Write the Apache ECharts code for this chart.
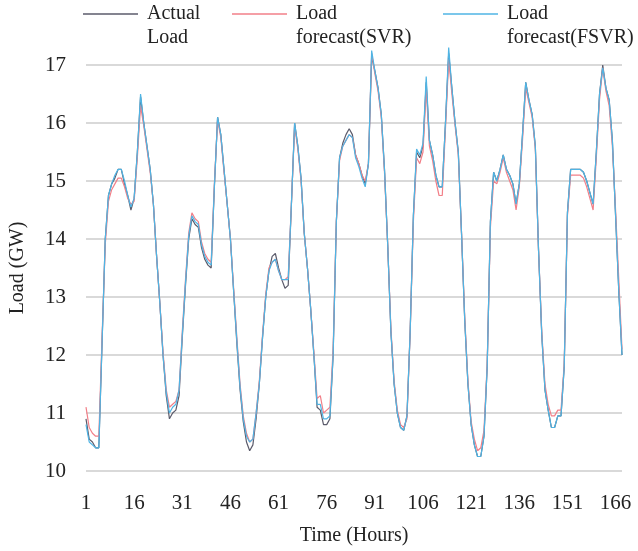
<!DOCTYPE html>
<html>
<head>
<meta charset="utf-8">
<script src="https://cdn.jsdelivr.net/npm/echarts@6/dist/echarts.min.js"></script>
<style>
  html, body { margin: 0; padding: 0; background: #fff; }
  #chart { width: 638px; height: 551px; }
</style>
</head>
<body>
<div id="chart"></div>
<script>
// hours 1..168
const hours = Array.from({ length: 168 }, (_, i) => String(i + 1));

// actual load (GW)
const actualLoad = [
  10.9, 10.55, 10.5, 10.4, 10.4, 12.2, 14.0, 14.75, 14.95, 15.05,
  15.2, 15.2, 14.95, 14.75, 14.5, 14.7, 15.5, 16.45, 16.0, 15.6,
  15.2, 14.6, 13.7, 12.9, 12.0, 11.3, 10.9, 11.0, 11.05, 11.3,
  12.3, 13.2, 14.0, 14.35, 14.25, 14.2, 13.85, 13.65, 13.55, 13.5,
  14.9, 16.1, 15.8, 15.2, 14.6, 14.0, 13.1, 12.2, 11.4, 10.85,
  10.5, 10.35, 10.45, 10.9, 11.5, 12.3, 13.0, 13.45, 13.7, 13.75,
  13.5, 13.3, 13.15, 13.2, 14.6, 16.0, 15.6, 15.05, 14.1, 13.5,
  12.8, 12.0, 11.1, 11.05, 10.8, 10.8, 10.9, 12.0, 14.3, 15.4,
  15.65, 15.8, 15.9, 15.8, 15.45, 15.3, 15.1, 14.95, 15.3, 17.15,
  16.9, 16.6, 16.15, 15.2, 13.9, 12.4, 11.5, 11.0, 10.75, 10.7,
  10.95, 12.4, 14.4, 15.5, 15.4, 15.6, 16.7, 15.7, 15.45, 15.1,
  14.9, 14.9, 16.0, 17.2, 16.6, 16.0, 15.5, 14.1, 12.6, 11.5,
  10.8, 10.45, 10.25, 10.25, 10.6, 11.8, 14.3, 15.15, 15.0, 15.2,
  15.45, 15.2, 15.1, 14.95, 14.6, 14.95, 15.8, 16.7, 16.4, 16.15,
  15.6, 13.8, 12.35, 11.4, 11.05, 10.75, 10.75, 10.95, 10.95, 11.8,
  14.45, 15.2, 15.2, 15.2, 15.2, 15.15, 15.0, 14.8, 14.6, 15.5,
  16.5, 17.0, 16.6, 16.4, 15.7, 14.4, 13.1, 12.0
];

// SVR forecast
const svrForecast = [
  11.1, 10.75, 10.65, 10.6, 10.6, 12.3, 13.9, 14.65, 14.85, 14.95,
  15.05, 15.05, 14.9, 14.7, 14.6, 14.65, 15.4, 16.3, 15.95, 15.55,
  15.15, 14.6, 13.7, 12.9, 12.05, 11.4, 11.1, 11.15, 11.2, 11.4,
  12.4, 13.3, 14.1, 14.45, 14.35, 14.3, 13.95, 13.75, 13.65, 13.6,
  14.95, 16.05, 15.75, 15.15, 14.6, 14.0, 13.15, 12.3, 11.5, 10.95,
  10.65, 10.5, 10.55, 11.0, 11.55, 12.35, 13.05, 13.5, 13.6, 13.65,
  13.45, 13.3, 13.3, 13.35, 14.6, 15.95, 15.55, 15.0, 14.1, 13.5,
  12.8, 12.05, 11.25, 11.3, 11.0, 11.05, 11.1, 12.1, 14.3, 15.35,
  15.6, 15.7, 15.8, 15.75, 15.45, 15.3, 15.1, 15.0, 15.3, 17.2,
  16.85, 16.55, 16.1, 15.15, 13.9, 12.45, 11.55, 11.05, 10.8, 10.75,
  10.9, 12.4, 14.3, 15.4, 15.3, 15.5, 16.6, 15.6, 15.35, 15.0,
  14.75, 14.75, 15.9, 17.1, 16.5, 15.95, 15.45, 14.1, 12.65, 11.55,
  10.85, 10.55, 10.35, 10.4, 10.7, 11.85, 14.2, 15.0, 14.95, 15.15,
  15.4, 15.15, 15.0, 14.85, 14.5, 14.9, 15.7, 16.6, 16.35, 16.1,
  15.55, 13.8, 12.4, 11.5, 11.15, 10.95, 10.95, 11.05, 11.05, 11.85,
  14.4, 15.1, 15.1, 15.1, 15.1, 15.05, 14.9, 14.7, 14.5, 15.4,
  16.4, 16.95, 16.55, 16.3, 15.6, 14.5, 13.3, 12.1
];

// FSVR forecast
const fsvrForecast = [
  10.8, 10.5, 10.45, 10.4, 10.4, 12.2, 14.0, 14.75, 14.95, 15.1,
  15.2, 15.2, 15.0, 14.75, 14.55, 14.7, 15.5, 16.5, 16.0, 15.6,
  15.2, 14.6, 13.7, 12.9, 12.0, 11.35, 11.0, 11.1, 11.15, 11.4,
  12.35, 13.25, 14.05, 14.4, 14.3, 14.25, 13.9, 13.7, 13.6, 13.55,
  14.9, 16.1, 15.8, 15.2, 14.6, 14.0, 13.1, 12.25, 11.45, 10.9,
  10.6, 10.5, 10.55, 11.0, 11.5, 12.3, 13.0, 13.45, 13.6, 13.65,
  13.45, 13.3, 13.3, 13.3, 14.6, 16.0, 15.6, 15.05, 14.1, 13.5,
  12.8, 12.0, 11.15, 11.15, 10.9, 10.9, 10.95, 12.0, 14.3, 15.4,
  15.6, 15.7, 15.8, 15.75, 15.4, 15.25, 15.05, 14.9, 15.3, 17.25,
  16.9, 16.6, 16.15, 15.2, 13.9, 12.4, 11.5, 11.0, 10.75, 10.7,
  10.95, 12.4, 14.4, 15.55, 15.45, 15.65, 16.8, 15.7, 15.45, 15.1,
  14.9, 14.9, 16.0, 17.3, 16.6, 16.0, 15.5, 14.1, 12.6, 11.5,
  10.8, 10.45, 10.25, 10.25, 10.6, 11.8, 14.3, 15.15, 15.0, 15.2,
  15.45, 15.2, 15.1, 14.95, 14.6, 14.95, 15.8, 16.7, 16.4, 16.15,
  15.6, 13.8, 12.35, 11.4, 11.05, 10.75, 10.75, 10.95, 10.95, 11.8,
  14.45, 15.2, 15.2, 15.2, 15.2, 15.15, 15.0, 14.8, 14.6, 15.5,
  16.5, 16.95, 16.6, 16.4, 15.7, 14.4, 13.1, 12.0
];

const seriesNames = ['Actual Load', 'Load forecast(SVR)', 'Load forecast(FSVR)'];
const legendLabels = ['Actual\nLoad', 'Load\nforecast(SVR)', 'Load\nforecast(FSVR)'];
const colors = ['#5b5b6b', '#f27f88', '#4fb4e4'];

const FONT = 'Liberation Serif';

const chart = echarts.init(document.getElementById('chart'));

// one legend per item so each can sit where the reference puts it
const legendLefts = [83, 232, 443];
const legends = seriesNames.map((name, i) => ({
  data: [name],
  left: legendLefts[i],
  top: -22,
  padding: 0,
  itemWidth: 55,
  itemHeight: 1.5,
  itemGap: 0,
  icon: 'rect',
  textStyle: { fontFamily: FONT, fontSize: 20, color: '#222', lineHeight: 24, padding: [0, 0, 0, 4] },
  // blank first line: the icon lines up with the first real text line
  formatter: () => '\n' + legendLabels[i]
}));

const option = {
  animation: false,
  color: colors,
  legend: legends,
  grid: { left: 86, right: 16, top: 65, bottom: 77 },
  xAxis: {
    type: 'category',
    data: hours,
    boundaryGap: false,
    name: 'Time (Hours)',
    nameLocation: 'middle',
    nameGap: 55,
    nameTextStyle: { fontFamily: FONT, fontSize: 20, color: '#222' },
    axisLine: { show: false },
    axisTick: { show: false },
    axisLabel: { interval: 14, fontFamily: FONT, fontSize: 21, color: '#222', margin: 22 },
    splitLine: { show: false }
  },
  yAxis: {
    type: 'value',
    min: 10,
    max: 17,
    interval: 1,
    name: 'Load (GW)',
    nameLocation: 'middle',
    nameGap: 58,
    nameTextStyle: { fontFamily: FONT, fontSize: 20, color: '#222' },
    axisLine: { show: false },
    axisTick: { show: false },
    axisLabel: { fontFamily: FONT, fontSize: 21, color: '#222', margin: 20 },
    splitLine: { lineStyle: { color: '#d9d9d9', width: 2 } }
  },
  series: [
    { name: seriesNames[0], type: 'line', data: actualLoad, showSymbol: false, clip: false, lineStyle: { width: 1.2 } },
    { name: seriesNames[1], type: 'line', data: svrForecast, showSymbol: false, clip: false, lineStyle: { width: 1.2 } },
    { name: seriesNames[2], type: 'line', data: fsvrForecast, showSymbol: false, clip: false, lineStyle: { width: 1.2 } }
  ]
};

chart.setOption(option);
</script>
</body>
</html>
